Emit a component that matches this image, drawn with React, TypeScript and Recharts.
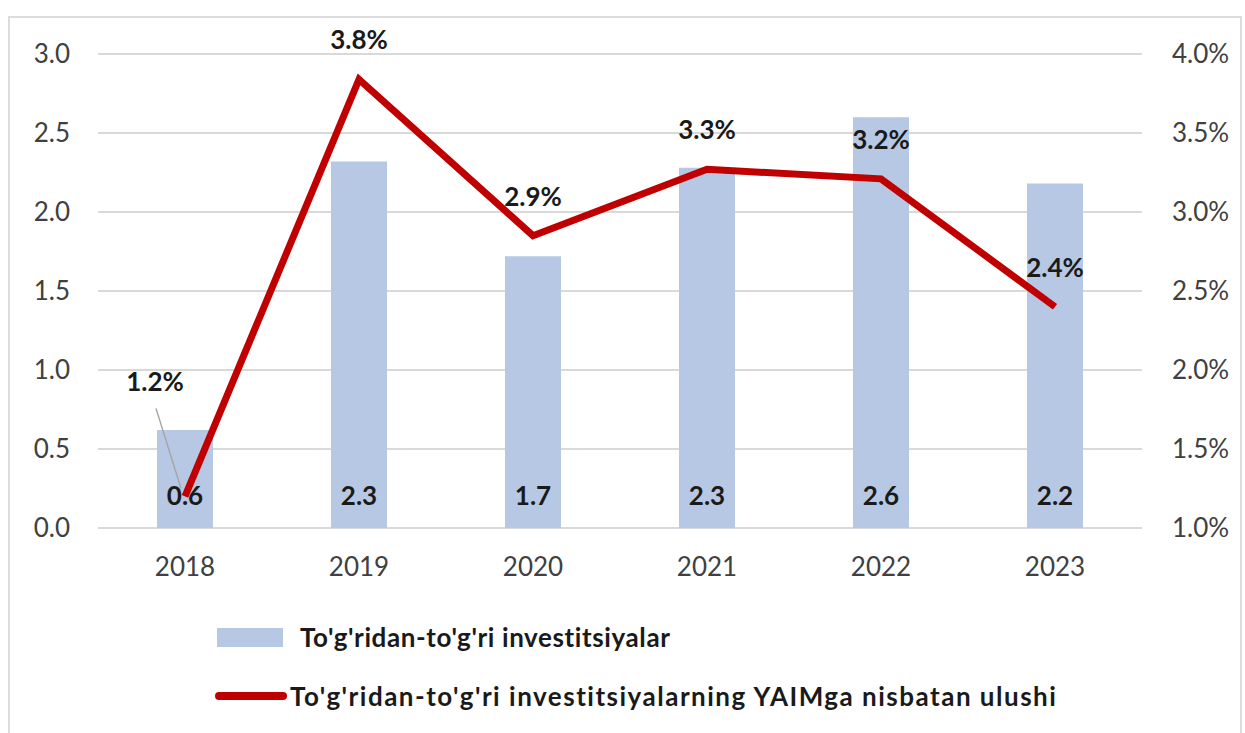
import React from 'react';
import { ComposedChart, Bar, Line, XAxis, YAxis, CartesianGrid, LabelList } from 'recharts';

const years = ['2018', '2019', '2020', '2021', '2022', '2023'];
const investments = [0.62, 2.32, 1.72, 2.28, 2.6, 2.18];
const investmentLabels = ['0.6', '2.3', '1.7', '2.3', '2.6', '2.2'];
const gdpShare = [1.2, 3.84, 2.85, 3.27, 3.21, 2.4];
const leftTicks = [0, 0.5, 1.0, 1.5, 2.0, 2.5, 3.0];
const rightTicks = [1.0, 1.5, 2.0, 2.5, 3.0, 3.5, 4.0];
const barName = "To'g'ridan-to'g'ri investitsiyalar";
const lineName = "To'g'ridan-to'g'ri investitsiyalarning YAIMga nisbatan ulushi";

const data = years.map((y, i) => ({
  year: y,
  inv: investments[i],
  share: gdpShare[i],
}));

const FONT = 'Lato, "Open Sans", sans-serif';
const BAR_COLOR = '#B6C8E4';
const LINE_COLOR = '#C00000';
const TEXT = '#404040';

const BarLabel = (props: any) => {
  const { x, y, width, height, index } = props;
  return (
    <text
      x={x + width / 2}
      y={y + height - 33}
      textAnchor="middle"
      dominantBaseline="central"
      fontFamily={FONT}
      fontWeight={700}
      fontSize={26}
      fill="#1a1a1a"
    >
      {investmentLabels[index]}
    </text>
  );
};

const LineLabel = (props: any) => {
  const { x, y, value, index } = props;
  const txt = `${Number(value).toFixed(1)}%`;
  if (index === 0) {
    return (
      <g>
        <line x1={x - 29} y1={y - 88} x2={x - 4} y2={y - 8} stroke="#a6a6a6" strokeWidth={1.5} />
        <text
          x={x - 30}
          y={y - 115}
          textAnchor="middle"
          dominantBaseline="central"
          fontFamily={FONT}
          fontWeight={700}
          fontSize={26}
          fill="#1a1a1a"
        >
          {txt}
        </text>
      </g>
    );
  }
  return (
    <text
      x={x}
      y={y - 40}
      textAnchor="middle"
      dominantBaseline="central"
      fontFamily={FONT}
      fontWeight={700}
      fontSize={26}
      fill="#1a1a1a"
    >
      {txt}
    </text>
  );
};

const legendText: React.CSSProperties = {
  position: 'absolute',
  lineHeight: '34px',
  whiteSpace: 'nowrap',
  fontFamily: FONT,
  fontWeight: 700,
  fontSize: 26,
  color: '#1a1a1a',
  fontVariantLigatures: 'none',
};

export default function App() {
  return (
    <div style={{ position: 'fixed', left: 0, top: 0, width: 1245, height: 733, background: '#fff', overflow: 'hidden' }}>
      <div style={{ position: 'absolute', left: 8, top: 16, width: 1234, height: 740, border: '2px solid #dcdcdc', boxSizing: 'border-box' }} />
      <ComposedChart
        width={1245}
        height={733}
        data={data}
        margin={{ top: 54, right: 0, bottom: 145, left: 0 }}
        style={{ position: 'absolute', left: 0, top: 0 }}
      >
        <CartesianGrid vertical={false} stroke="#d9d9d9" strokeWidth={2} yAxisId="left" />
        <XAxis
          dataKey="year"
          axisLine={false}
          tickLine={false}
          tickSize={0}
          tickMargin={30}
          height={60}
          tick={{ fill: TEXT, fontSize: 26, fontFamily: FONT }}
        />
        <YAxis
          yAxisId="left"
          orientation="left"
          width={98}
          domain={[0, 3]}
          ticks={leftTicks}
          axisLine={false}
          tickLine={false}
          tickSize={0}
          tickMargin={28}
          tickFormatter={(v: number) => v.toFixed(1)}
          tick={{ fill: TEXT, fontSize: 26, fontFamily: FONT }}
        />
        <YAxis
          yAxisId="right"
          orientation="right"
          width={103}
          domain={[1, 4]}
          ticks={rightTicks}
          axisLine={false}
          tickLine={false}
          tickSize={0}
          tickMargin={30}
          tickFormatter={(v: number) => `${v.toFixed(1)}%`}
          tick={{ fill: TEXT, fontSize: 26, fontFamily: FONT, textAnchor: 'start' }}
        />
        <Bar yAxisId="left" dataKey="inv" name={barName} fill={BAR_COLOR} barSize={56} isAnimationActive={false}>
          <LabelList dataKey="inv" content={BarLabel} />
        </Bar>
        <Line
          yAxisId="right"
          dataKey="share"
          name={lineName}
          stroke={LINE_COLOR}
          strokeWidth={7}
          dot={false}
          activeDot={false}
          isAnimationActive={false}
          strokeLinejoin="miter"
        >
          <LabelList dataKey="share" content={LineLabel} />
        </Line>
      </ComposedChart>
      <div style={{ position: 'absolute', left: 217, top: 628, width: 66, height: 19, background: BAR_COLOR }} />
      <div style={{ ...legendText, left: 300, top: 620, letterSpacing: 0.6 }}>{barName}</div>
      <div style={{ position: 'absolute', left: 215, top: 692, width: 72, height: 8, borderRadius: 4, background: LINE_COLOR }} />
      <div style={{ ...legendText, left: 290, top: 679, letterSpacing: 1.5 }}>{lineName}</div>
    </div>
  );
}
